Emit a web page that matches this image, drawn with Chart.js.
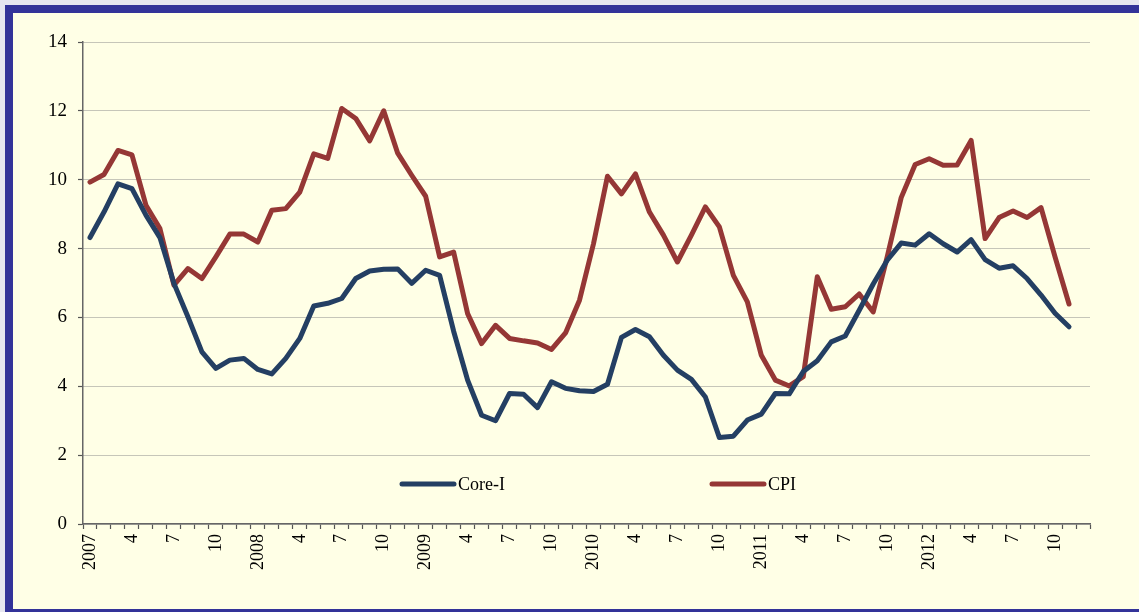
<!DOCTYPE html>
<html lang="en">
<head>
    <meta charset="UTF-8">
    <title>Core-I and CPI</title>
    <script src="https://cdn.jsdelivr.net/npm/chart.js"></script>
    <style>
        html, body {
            margin: 0;
            padding: 0;
            width: 1139px;
            height: 612px;
            overflow: hidden;
            background: #e6e6f0;
        }
        .frame {
            position: absolute;
            left: 5px;
            top: 5px;
            width: 1200px;
            height: 596px;
            border: 8px solid #333399;
            background: #ffffe6;
        }
        canvas {
            position: absolute;
            left: 0;
            top: 0;
        }
    </style>
</head>
<body>
    <div class="frame"></div>
    <canvas id="chartCanva" width="1139" height="612"></canvas>

    <script>
        // Months Jan 2007 .. Dec 2012
        const years = ['2007', '2008', '2009', '2010', '2011', '2012'];
        const months = [1, 2, 3, 4, 5, 6, 7, 8, 9, 10, 11, 12];
        const shownMonths = [4, 7, 10];

        const coreI = [
            8.32, 9.06, 9.88, 9.74, 8.97, 8.32, 6.99, 6.02, 5.00, 4.52, 4.76, 4.81,
            4.49, 4.36, 4.81, 5.39, 6.33, 6.41, 6.55, 7.13, 7.35, 7.40, 7.41, 6.99,
            7.37, 7.22, 5.60, 4.18, 3.16, 3.00, 3.79, 3.77, 3.38, 4.13, 3.94, 3.87,
            3.85, 4.06, 5.42, 5.65, 5.44, 4.90, 4.47, 4.20, 3.69, 2.51, 2.55, 3.02,
            3.19, 3.79, 3.78, 4.43, 4.74, 5.29, 5.46, 6.21, 6.97, 7.66, 8.16, 8.10,
            8.43, 8.14, 7.90, 8.26, 7.68, 7.43, 7.50, 7.13, 6.65, 6.12, 5.73
        ];

        const cpi = [
            9.93, 10.15, 10.85, 10.72, 9.26, 8.58, 6.94, 7.42, 7.13, 7.76, 8.42, 8.42,
            8.19, 9.11, 9.16, 9.64, 10.75, 10.62, 12.07, 11.78, 11.13, 12.00, 10.77, 10.13,
            9.52, 7.76, 7.90, 6.11, 5.24, 5.77, 5.39, 5.32, 5.26, 5.07, 5.55, 6.50,
            8.14, 10.10, 9.59, 10.17, 9.06, 8.39, 7.61, 8.39, 9.21, 8.63, 7.22, 6.45,
            4.90, 4.18, 4.01, 4.28, 7.18, 6.24, 6.31, 6.68, 6.16, 7.76, 9.48, 10.44,
            10.61, 10.42, 10.43, 11.14, 8.29, 8.90, 9.09, 8.90, 9.19, 7.76, 6.39
        ];

        const labels = years.flatMap(y => months.map(m => y + '-' + m));

        const serif = "'Liberation Serif', 'DejaVu Serif', serif";
        const blue = '#243f63';
        const red = '#953735';

        // legend drawn inside the plot, as in the original
        const insideLegend = {
            id: 'insideLegend',
            afterDraw(chart) {
                const ctx = chart.ctx;
                const items = [
                    { text: 'Core-I', color: blue, x: 402 },
                    { text: 'CPI', color: red, x: 712 }
                ];
                const y = 484;
                ctx.save();
                ctx.lineWidth = 5;
                ctx.lineCap = 'round';
                ctx.font = '18px ' + serif;
                ctx.textBaseline = 'middle';
                ctx.fillStyle = '#000';
                items.forEach(it => {
                    ctx.strokeStyle = it.color;
                    ctx.beginPath();
                    ctx.moveTo(it.x, y);
                    ctx.lineTo(it.x + 52, y);
                    ctx.stroke();
                    ctx.fillText(it.text, it.x + 56, y + 1);
                });
                ctx.restore();
            }
        };

        const ctx = document.getElementById('chartCanva').getContext('2d');

        const chart = new Chart(ctx, {
            type: 'line',
            data: {
                labels: labels,
                datasets: [
                    {
                        label: 'Core-I',
                        data: coreI,
                        fill: false,
                        borderColor: blue,
                        borderWidth: 5,
                        lineTension: 0,
                        borderJoinStyle: 'round',
                        borderCapStyle: 'round',
                        pointRadius: 0
                    },
                    {
                        label: 'CPI',
                        data: cpi,
                        fill: false,
                        borderColor: red,
                        borderWidth: 5,
                        lineTension: 0,
                        borderJoinStyle: 'round',
                        borderCapStyle: 'round',
                        pointRadius: 0
                    }
                ]
            },
            options: {
                responsive: false,
                animation: false,
                layout: {
                    padding: { left: 0, right: 49, top: 42, bottom: 0 }
                },
                plugins: {
                    legend: { display: false },
                    tooltip: { enabled: false }
                },
                scales: {
                    x: {
                        offset: true,
                        afterFit: s => { s.height = 88; },
                        grid: {
                            offset: true,
                            drawOnChartArea: false,
                            drawTicks: true,
                            tickLength: 5,
                            tickColor: '#555',
                            tickWidth: 1.2
                        },
                        border: { color: '#666', width: 1.5 },
                        ticks: {
                            autoSkip: false,
                            maxRotation: 90,
                            minRotation: 90,
                            padding: 5,
                            color: '#000',
                            font: { family: serif, size: 18 },
                            callback: function (value, index) {
                                const m = months[index % 12];
                                if (m === 1) return years[Math.floor(index / 12)];
                                return shownMonths.includes(m) ? String(m) : '';
                            }
                        }
                    },
                    y: {
                        min: 0,
                        max: 14,
                        afterFit: s => { s.width = 83; },
                        grid: {
                            color: '#8c8c8c',
                            lineWidth: 1,
                            tickLength: 5,
                            tickColor: '#555',
                            tickWidth: 1.2,
                            tickBorderDash: []
                        },
                        border: { color: '#666', width: 1.5, dash: [1, 1] },
                        ticks: {
                            stepSize: 2,
                            padding: 11,
                            color: '#000',
                            font: { family: serif, size: 19 }
                        }
                    }
                }
            },
            plugins: [insideLegend]
        });
    </script>
</body>
</html>
